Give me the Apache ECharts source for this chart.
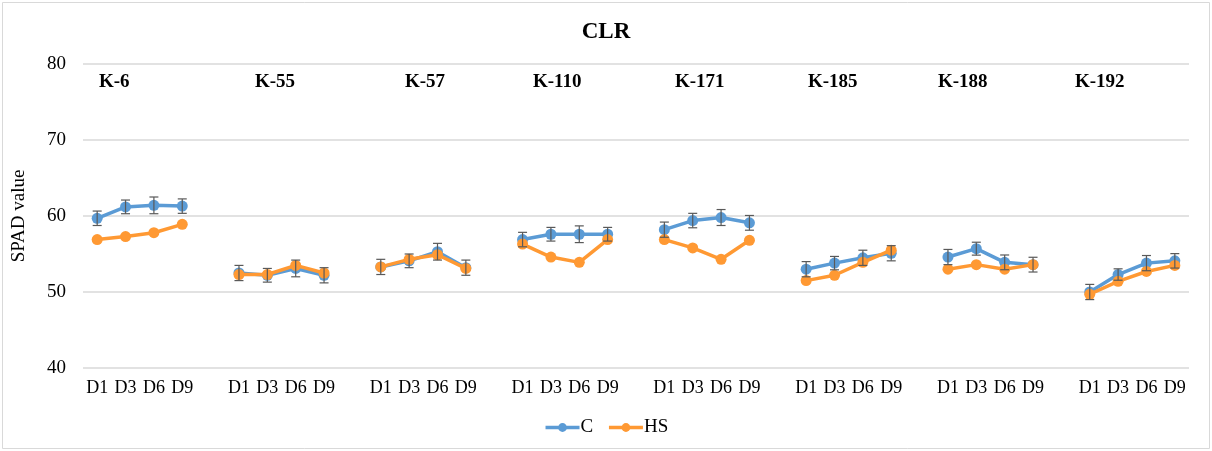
<!DOCTYPE html>
<html><head><meta charset="utf-8">
<script src="https://cdn.jsdelivr.net/npm/echarts@6/dist/echarts.min.js"></script>
<style>html,body{margin:0;padding:0;background:#fff}#c{width:1212px;height:451px}</style>
</head><body><div id="c"></div>
<script>
const groups = ['K-6','K-55','K-57','K-110','K-171','K-185','K-188','K-192'];
const days = ['D1','D3','D6','D9'];
const cMean = [
  [59.7,61.2,61.4,61.3],
  [52.5,52.2,53.1,52.2],
  [53.3,54.1,55.3,53.2],
  [56.9,57.6,57.6,57.6],
  [58.2,59.4,59.8,59.1],
  [53.0,53.8,54.5,55.1],
  [54.6,55.7,53.9,53.6],
  [50.0,52.3,53.8,54.1]
];
const cErr = [
  [0.95,0.9,1.1,0.95],
  [1.0,0.9,1.1,1.0],
  [1.0,0.9,1.1,1.0],
  [0.95,0.9,1.1,0.9],
  [1.0,0.95,1.05,0.97],
  [1.0,0.88,1.0,1.0],
  [1.0,0.85,0.97,0.97],
  [1.0,0.75,1.0,0.95]
];
const hsMean = [
  [56.9,57.3,57.8,58.9],
  [52.3,52.3,53.5,52.5],
  [53.3,54.3,54.9,53.1],
  [56.3,54.6,53.9,56.9],
  [56.9,55.8,54.3,56.8],
  [51.5,52.2,53.9,55.5],
  [53.0,53.6,53.0,53.6],
  [49.7,51.4,52.7,53.5]
];
const groupLabelX = [99,255,405,533,675,808,938,1075];

// build category axis with one blank slot between groups
const cats = [], cData = [], hsData = [], errData = [];
groups.forEach((g, gi) => {
  days.forEach((d, di) => {
    const idx = cats.length;
    cats.push(d);
    cData.push(cMean[gi][di]);
    hsData.push(hsMean[gi][di]);
    errData.push([idx, cMean[gi][di] - cErr[gi][di], cMean[gi][di] + cErr[gi][di]]);
  });
  if (gi < groups.length - 1) { cats.push(''); cData.push(null); hsData.push(null); }
});

const chart = echarts.init(document.getElementById('c'));
const font = '"Liberation Serif","Times New Roman",serif';
chart.setOption({
  animation: false,
  backgroundColor: '#fff',
  title: {text: 'CLR', left: 'center', top: 16, textStyle: {fontFamily: font, fontWeight: 'bold', fontSize: 23, color: '#000'}},
  grid: {left: 83, right: 23, top: 64, bottom: 83},
  legend: {
    bottom: 9, left: 'center', itemWidth: 34, itemHeight: 11, itemGap: 14,
    lineStyle: {width: 3.5},
    textStyle: {fontFamily: font, fontSize: 19, color: '#000', padding: [0,0,0,-4]},
    data: ['C', 'HS']
  },
  xAxis: {
    type: 'category', data: cats,
    axisLine: {show: false}, axisTick: {show: false},
    axisLabel: {interval: 0, fontFamily: font, fontSize: 18, color: '#000', margin: 11}
  },
  yAxis: {
    type: 'value', min: 40, max: 80, interval: 10,
    name: 'SPAD value', nameLocation: 'middle', nameGap: 54, nameRotate: 90,
    nameTextStyle: {fontFamily: font, fontSize: 19, color: '#000'},
    axisLabel: {fontFamily: font, fontSize: 19, color: '#000', margin: 17},
    splitLine: {lineStyle: {color: '#d9d9d9', width: 1.5}},
    axisLine: {show: false}, axisTick: {show: false}
  },
  graphic: [
    {type: 'rect', shape: {x: 2.5, y: 2.5, width: 1207, height: 446}, style: {fill: 'none', stroke: '#d9d9d9', lineWidth: 1}, silent: true, z: -1}
  ].concat(groups.map((g, i) => ({
    type: 'text', left: groupLabelX[i], top: 73,
    style: {text: g, font: 'bold 19px "Liberation Serif","Times New Roman",serif', fill: '#000'}
  }))),
  series: [
    {
      name: 'C', type: 'line', data: cData, connectNulls: false,
      symbol: 'circle', symbolSize: 11, color: '#5B9BD5',
      lineStyle: {width: 3.5, color: '#5B9BD5'}, itemStyle: {color: '#5B9BD5'}, z: 3
    },
    {
      name: 'HS', type: 'line', data: hsData, connectNulls: false,
      symbol: 'circle', symbolSize: 11, color: '#FF9933',
      lineStyle: {width: 3.5, color: '#FF9933'}, itemStyle: {color: '#FF9933'}, z: 4
    },
    {
      name: 'err', type: 'custom', data: errData, z: 5,
      renderItem: function(params, api) {
        const x = api.value(0);
        const lo = api.coord([x, api.value(1)]);
        const hi = api.coord([x, api.value(2)]);
        const w = 4.5;
        const st = {stroke: '#595959', lineWidth: 1.2, fill: null};
        return {type: 'group', children: [
          {type: 'line', shape: {x1: lo[0], y1: lo[1], x2: hi[0], y2: hi[1]}, style: st},
          {type: 'line', shape: {x1: lo[0]-w, y1: lo[1], x2: lo[0]+w, y2: lo[1]}, style: st},
          {type: 'line', shape: {x1: hi[0]-w, y1: hi[1], x2: hi[0]+w, y2: hi[1]}, style: st}
        ]};
      }
    }
  ]
});
</script></body></html>
